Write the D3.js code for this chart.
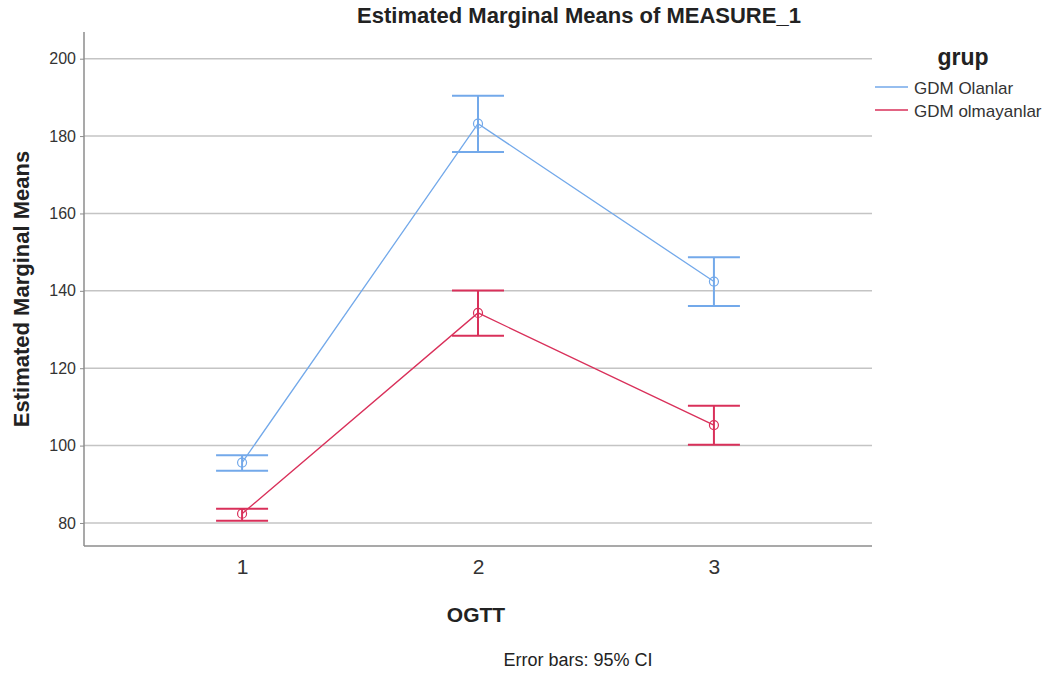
<!DOCTYPE html>
<html>
<head>
<meta charset="utf-8">
<script src="https://cdn.jsdelivr.net/npm/d3@7"></script>
<style>
  body { margin: 0; background: #fff; }
  text { font-family: Arial, "Liberation Sans", sans-serif; }
</style>
</head>
<body>
<svg id="chart" width="1056" height="673"></svg>
<script>
// values
const categories = ["1", "2", "3"];
const groups = ["GDM Olanlar", "GDM olmayanlar"];
const meansOlanlar = [95.6, 183.2, 142.4];
const lowerOlanlar = [93.5, 175.9, 136.1];
const upperOlanlar = [97.5, 190.4, 148.7];
const meansOlmayan = [82.4, 134.3, 105.3];
const lowerOlmayan = [80.6, 128.4, 100.2];
const upperOlmayan = [83.7, 140.1, 110.3];
const yTicks = [80, 100, 120, 140, 160, 180, 200];
const colors = ["#73a9ea", "#d9305a"];

const series = [
  { name: groups[0], color: colors[0], mean: meansOlanlar, lo: lowerOlanlar, hi: upperOlanlar },
  { name: groups[1], color: colors[1], mean: meansOlmayan, lo: lowerOlmayan, hi: upperOlmayan }
];

const svg = d3.select("#chart");
const plotLeft = 84, plotRight = 872, plotTop = 32, plotBottom = 546;

const x = d3.scalePoint().domain(categories).range([plotLeft, plotRight]).padding(0.67);
const y = d3.scaleLinear().domain([74.05, 206.9]).range([plotBottom, plotTop]);

// gridlines
svg.append("g")
  .selectAll("line")
  .data(yTicks)
  .join("line")
    .attr("x1", plotLeft).attr("x2", plotRight)
    .attr("y1", d => y(d)).attr("y2", d => y(d))
    .attr("stroke", "#c4c4c4").attr("stroke-width", 1.5);

// y axis
const yAxis = svg.append("g")
  .attr("transform", `translate(${plotLeft},0)`)
  .call(d3.axisLeft(y).tickValues(yTicks).tickSize(4).tickPadding(4));
yAxis.select(".domain").attr("d", `M0,${plotTop}V${plotBottom}`).attr("stroke", "#8c8c8c").attr("stroke-width", 1.5);
yAxis.selectAll(".tick line").attr("stroke", "#8c8c8c");
yAxis.selectAll(".tick text").attr("font-size", 16).attr("fill", "#333")
  .attr("font-family", "Arial, 'Liberation Sans', sans-serif");

// x axis
const xAxis = svg.append("g")
  .attr("transform", `translate(0,${plotBottom})`)
  .call(d3.axisBottom(x).tickSize(0).tickPadding(13));
xAxis.select(".domain").attr("d", `M${plotLeft},0H${plotRight}`).attr("stroke", "#8c8c8c").attr("stroke-width", 1.5);
xAxis.selectAll(".tick text").attr("font-size", 21).attr("fill", "#333")
  .attr("font-family", "Arial, 'Liberation Sans', sans-serif");

// lines, error bars, points
const line = d3.line().x((d, i) => x(categories[i])).y(d => y(d));
const capHalf = 26;

series.forEach(s => {
  const g = svg.append("g").attr("stroke", s.color).attr("fill", "none");
  g.append("path").attr("d", line(s.mean)).attr("stroke-width", 1.3);

  const bars = g.selectAll(".err")
    .data(categories.map((c, i) => ({ c, lo: s.lo[i], hi: s.hi[i], m: s.mean[i] })))
    .join("g").attr("class", "err").attr("stroke-width", 2);
  bars.append("line")
    .attr("x1", d => x(d.c)).attr("x2", d => x(d.c))
    .attr("y1", d => y(d.lo)).attr("y2", d => y(d.hi));
  bars.append("line")
    .attr("x1", d => x(d.c) - capHalf).attr("x2", d => x(d.c) + capHalf)
    .attr("y1", d => y(d.hi)).attr("y2", d => y(d.hi));
  bars.append("line")
    .attr("x1", d => x(d.c) - capHalf).attr("x2", d => x(d.c) + capHalf)
    .attr("y1", d => y(d.lo)).attr("y2", d => y(d.lo));
  bars.append("circle")
    .attr("cx", d => x(d.c)).attr("cy", d => y(d.m))
    .attr("r", 4.5).attr("stroke-width", 1.2);
});

// title and axis labels
svg.append("text").attr("x", 579).attr("y", 23).attr("text-anchor", "middle")
  .attr("font-size", 22).attr("font-weight", "bold").attr("fill", "#222")
  .text("Estimated Marginal Means of MEASURE_1");

svg.append("text").attr("transform", "translate(29,289) rotate(-90)")
  .attr("text-anchor", "middle").attr("font-size", 22).attr("font-weight", "bold").attr("fill", "#222")
  .text("Estimated Marginal Means");

svg.append("text").attr("x", 476).attr("y", 622).attr("text-anchor", "middle")
  .attr("font-size", 21).attr("font-weight", "bold").attr("fill", "#222")
  .text("OGTT");

svg.append("text").attr("x", 578).attr("y", 666).attr("text-anchor", "middle")
  .attr("font-size", 18).attr("fill", "#222")
  .text("Error bars: 95% CI");

// legend
svg.append("text").attr("x", 963).attr("y", 65).attr("text-anchor", "middle")
  .attr("font-size", 23).attr("font-weight", "bold").attr("fill", "#222")
  .text("grup");

const legend = svg.append("g").selectAll("g")
  .data(series)
  .join("g")
    .attr("transform", (d, i) => `translate(875,${87 + i * 23})`);
legend.append("line").attr("x1", 0).attr("x2", 33).attr("y1", 0).attr("y2", 0)
  .attr("stroke", d => d.color).attr("stroke-width", 1.5);
legend.append("text").attr("x", 39).attr("y", 7).attr("font-size", 17).attr("fill", "#333")
  .text(d => d.name);
</script>
</body>
</html>
